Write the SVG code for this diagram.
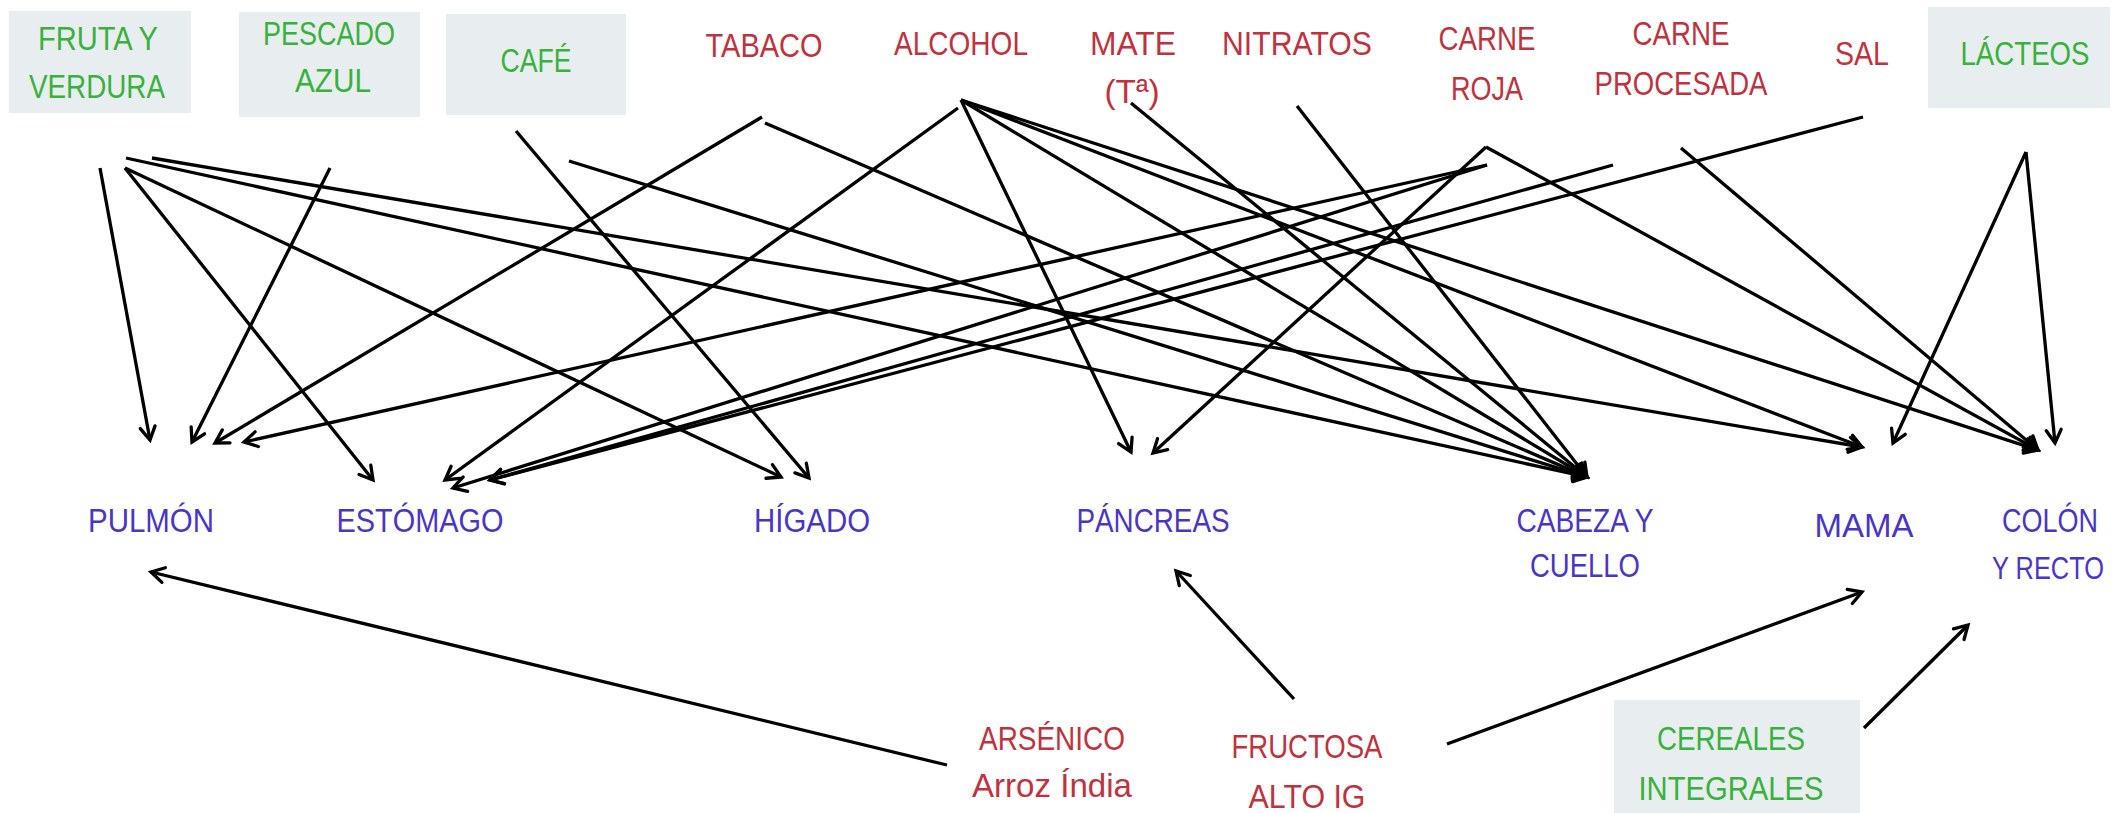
<svg xmlns="http://www.w3.org/2000/svg" width="2126" height="813" viewBox="0 0 2126 813">
  <style>
    .box { fill: #e8edf0; }
    .t { font-family: "Liberation Sans", "DejaVu Sans", sans-serif; font-size: 34px; text-anchor: middle; }
    .tight { font-size: 31px; }
    .good { fill: #37b23a; }
    .risk { fill: #c0323e; }
    .organ { fill: #4b35c6; }
    .edge { stroke: #000; stroke-width: 3.3; fill: none; marker-end: url(#ah); }
  </style>
  <defs>
    <marker id="ah" markerUnits="userSpaceOnUse" markerWidth="20" markerHeight="20" viewBox="0 0 20 20" refX="16" refY="10" orient="auto">
      <path d="M3,2.5 L16,10 L3,17.5" fill="none" stroke="#000" stroke-width="3.3" stroke-linecap="round"/>
    </marker>
  </defs>
  <rect width="2126" height="813" fill="#fff"/>

  <!-- protective factors -->
  <g id="fruta-verdura">
    <rect class="box" x="9" y="11" width="182" height="102"/>
    <text class="t good" x="98" y="50" textLength="120" lengthAdjust="spacingAndGlyphs">FRUTA Y</text>
    <text class="t good" x="97" y="98" textLength="136" lengthAdjust="spacingAndGlyphs">VERDURA</text>
  </g>
  <g id="pescado-azul">
    <rect class="box" x="239" y="12" width="181" height="105"/>
    <text class="t good" x="329" y="45" textLength="132" lengthAdjust="spacingAndGlyphs">PESCADO</text>
    <text class="t good" x="333" y="92" textLength="76" lengthAdjust="spacingAndGlyphs">AZUL</text>
  </g>
  <g id="cafe">
    <rect class="box" x="446" y="14" width="180" height="101"/>
    <text class="t good" x="536" y="72" textLength="71" lengthAdjust="spacingAndGlyphs">CAFÉ</text>
  </g>
  <g id="lacteos">
    <rect class="box" x="1928" y="7" width="182" height="101"/>
    <text class="t good" x="2025" y="65" textLength="129" lengthAdjust="spacingAndGlyphs">LÁCTEOS</text>
  </g>
  <g id="cereales-integrales">
    <rect class="box" x="1614" y="700" width="246" height="113"/>
    <text class="t good" x="1731" y="750" textLength="148" lengthAdjust="spacingAndGlyphs">CEREALES</text>
    <text class="t good" x="1731" y="800" textLength="185" lengthAdjust="spacingAndGlyphs">INTEGRALES</text>
  </g>

  <!-- risk factors -->
  <g id="tabaco">
    <text class="t risk" x="764" y="57" textLength="117" lengthAdjust="spacingAndGlyphs">TABACO</text>
  </g>
  <g id="alcohol">
    <text class="t risk" x="961" y="55" textLength="134" lengthAdjust="spacingAndGlyphs">ALCOHOL</text>
  </g>
  <g id="mate">
    <text class="t risk" x="1133" y="55" textLength="86" lengthAdjust="spacingAndGlyphs">MATE</text>
    <text class="t risk" x="1132" y="103" textLength="55" lengthAdjust="spacingAndGlyphs">(Tª)</text>
  </g>
  <g id="nitratos">
    <text class="t risk" x="1297" y="55" textLength="150" lengthAdjust="spacingAndGlyphs">NITRATOS</text>
  </g>
  <g id="carne-roja">
    <text class="t risk" x="1487" y="50" textLength="97" lengthAdjust="spacingAndGlyphs">CARNE</text>
    <text class="t risk" x="1487" y="100" textLength="72" lengthAdjust="spacingAndGlyphs">ROJA</text>
  </g>
  <g id="carne-procesada">
    <text class="t risk" x="1681" y="45" textLength="97" lengthAdjust="spacingAndGlyphs">CARNE</text>
    <text class="t risk" x="1681" y="95" textLength="173" lengthAdjust="spacingAndGlyphs">PROCESADA</text>
  </g>
  <g id="sal">
    <text class="t risk" x="1862" y="65" textLength="54" lengthAdjust="spacingAndGlyphs">SAL</text>
  </g>
  <g id="arsenico">
    <text class="t risk" x="1052" y="750" textLength="146" lengthAdjust="spacingAndGlyphs">ARSÉNICO</text>
    <text class="t risk" x="1052" y="797" textLength="160" lengthAdjust="spacingAndGlyphs">Arroz Índia</text>
  </g>
  <g id="fructosa">
    <text class="t risk" x="1307" y="758" textLength="151" lengthAdjust="spacingAndGlyphs">FRUCTOSA</text>
    <text class="t risk" x="1307" y="808" textLength="117" lengthAdjust="spacingAndGlyphs">ALTO IG</text>
  </g>

  <!-- organs -->
  <g id="pulmon">
    <text class="t organ" x="151" y="532" textLength="126" lengthAdjust="spacingAndGlyphs">PULMÓN</text>
  </g>
  <g id="estomago">
    <text class="t organ" x="420" y="532" textLength="167" lengthAdjust="spacingAndGlyphs">ESTÓMAGO</text>
  </g>
  <g id="higado">
    <text class="t organ" x="812" y="532" textLength="116" lengthAdjust="spacingAndGlyphs">HÍGADO</text>
  </g>
  <g id="pancreas">
    <text class="t organ" x="1153" y="532" textLength="153" lengthAdjust="spacingAndGlyphs">PÁNCREAS</text>
  </g>
  <g id="cabeza-cuello">
    <text class="t organ" x="1585" y="532" textLength="137" lengthAdjust="spacingAndGlyphs">CABEZA Y</text>
    <text class="t organ" x="1585" y="577" textLength="110" lengthAdjust="spacingAndGlyphs">CUELLO</text>
  </g>
  <g id="mama">
    <text class="t organ" x="1864" y="537" textLength="99" lengthAdjust="spacingAndGlyphs">MAMA</text>
  </g>
  <g id="colon-recto">
    <text class="t organ" x="2050" y="532" textLength="96" lengthAdjust="spacingAndGlyphs">COLÓN</text>
    <text class="t tight organ" x="2048" y="579" textLength="112" lengthAdjust="spacingAndGlyphs">Y RECTO</text>
  </g>

  <!-- connectors -->
  <g id="connectors">
    <line class="edge" x1="100" y1="168" x2="150" y2="440"/>
    <line class="edge" x1="125" y1="168" x2="373" y2="480"/>
    <line class="edge" x1="125" y1="168" x2="781" y2="477"/>
    <line class="edge" x1="126" y1="158" x2="1587" y2="477"/>
    <line class="edge" x1="152" y1="158" x2="1862" y2="447"/>
    <line class="edge" x1="330" y1="168" x2="192" y2="442"/>
    <line class="edge" x1="516" y1="131" x2="809" y2="478"/>
    <line class="edge" x1="569" y1="161" x2="1587" y2="477"/>
    <line class="edge" x1="762" y1="117" x2="215" y2="443"/>
    <line class="edge" x1="765" y1="123" x2="1587" y2="477"/>
    <line class="edge" x1="958" y1="108" x2="445" y2="480"/>
    <line class="edge" x1="961" y1="100" x2="1131" y2="452"/>
    <line class="edge" x1="961" y1="100" x2="1587" y2="477"/>
    <line class="edge" x1="961" y1="100" x2="1862" y2="447"/>
    <line class="edge" x1="961" y1="100" x2="2038" y2="450"/>
    <line class="edge" x1="1131" y1="103" x2="1587" y2="477"/>
    <line class="edge" x1="1297" y1="106" x2="1587" y2="477"/>
    <line class="edge" x1="1487" y1="165" x2="244" y2="442"/>
    <line class="edge" x1="1487" y1="165" x2="453" y2="488"/>
    <line class="edge" x1="1486" y1="147" x2="1153" y2="453"/>
    <line class="edge" x1="1486" y1="147" x2="2038" y2="450"/>
    <line class="edge" x1="1613" y1="165" x2="490" y2="480"/>
    <line class="edge" x1="1681" y1="148" x2="2038" y2="450"/>
    <line class="edge" x1="1863" y1="117" x2="490" y2="480"/>
    <line class="edge" x1="2026" y1="152" x2="1893" y2="443"/>
    <line class="edge" x1="2026" y1="152" x2="2055" y2="443"/>
    <line class="edge" x1="947" y1="765" x2="151" y2="572"/>
    <line class="edge" x1="1294" y1="699" x2="1176" y2="571"/>
    <line class="edge" x1="1447" y1="744" x2="1862" y2="592"/>
    <line class="edge" x1="1864" y1="728" x2="1968" y2="625"/>
  </g>
</svg>
